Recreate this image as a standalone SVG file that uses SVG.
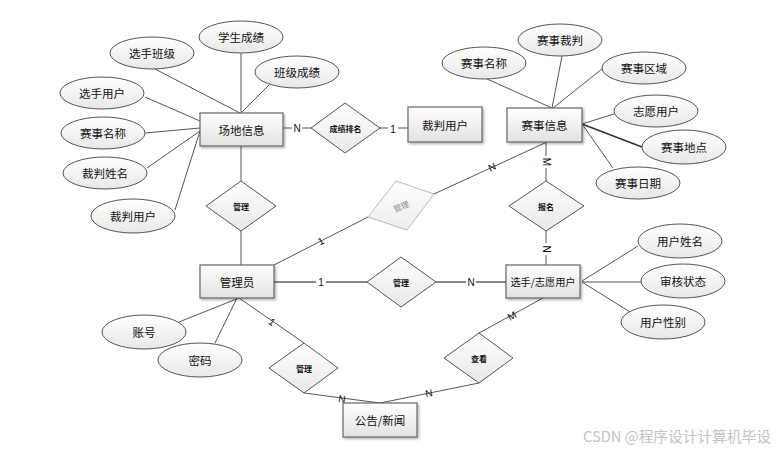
<svg xmlns="http://www.w3.org/2000/svg" width="777" height="451" viewBox="0 0 777 451">
<defs>
<linearGradient id="gE" x1="0" y1="0" x2="0" y2="1"><stop offset="0" stop-color="#ffffff"/><stop offset="1" stop-color="#e2e2e2"/></linearGradient>
<linearGradient id="gO" x1="0" y1="0" x2="0" y2="1"><stop offset="0" stop-color="#ffffff"/><stop offset="1" stop-color="#e8e8e8"/></linearGradient>
<linearGradient id="gF" x1="0" y1="0" x2="0" y2="1"><stop offset="0" stop-color="#ffffff"/><stop offset="1" stop-color="#ececec"/></linearGradient>
<filter id="sh" x="-10%" y="-10%" width="130%" height="140%"><feDropShadow dx="1.5" dy="1.5" stdDeviation="0.8" flood-color="#000" flood-opacity="0.3"/></filter>
</defs>
<style>
.ent{fill:url(#gE);stroke:#666;stroke-width:1.2;filter:url(#sh)}
.att{fill:url(#gO);stroke:#555;stroke-width:1}
.rel{fill:url(#gO);stroke:#555;stroke-width:1}
.fad{fill:url(#gF);stroke:#bbb;stroke-width:1}
.t{font-family:"Noto Sans CJK SC","Liberation Sans",sans-serif;font-size:11.5px;fill:#111;text-anchor:middle;dominant-baseline:central}
.rt{font-family:"Noto Sans CJK SC","Liberation Sans",sans-serif;font-size:8px;font-weight:bold;fill:#111;text-anchor:middle;dominant-baseline:central}
.ft{font-family:"Noto Sans CJK SC","Liberation Sans",sans-serif;font-size:8px;fill:#888;text-anchor:middle;dominant-baseline:central}
.c{stroke:#555;stroke-width:1;fill:none}
.lb{font-family:"Liberation Sans",sans-serif;font-size:10px;fill:#111;text-anchor:middle;dominant-baseline:central}
.lbb{fill:#fff}
.wm{font-family:"Noto Sans CJK SC","Liberation Sans",sans-serif;font-size:14.7px;fill:#c4c4c4}
</style>
<rect width="777" height="451" fill="#fff"/>
<g id="connectors">
<line class="c" x1="155" y1="69" x2="240" y2="113"/>
<line class="c" x1="241" y1="53" x2="241" y2="113"/>
<line class="c" x1="269" y1="85" x2="242" y2="112"/>
<line class="c" x1="145" y1="97" x2="200" y2="121"/>
<line class="c" x1="145" y1="133" x2="200" y2="128"/>
<line class="c" x1="147" y1="168" x2="200" y2="131"/>
<line class="c" x1="175" y1="210" x2="200" y2="131"/>
<line class="c" x1="241" y1="146" x2="241" y2="181"/>
<line class="c" x1="241" y1="231" x2="241" y2="265"/>
<line class="c" x1="283" y1="128" x2="311" y2="128"/>
<line class="c" x1="380" y1="128" x2="408" y2="128"/>
<line class="c" x1="274" y1="265" x2="368" y2="217"/>
<line class="c" x1="434" y1="194" x2="547" y2="142"/>
<line class="c" x1="487" y1="79" x2="552" y2="108"/>
<line class="c" x1="562" y1="56" x2="552" y2="108"/>
<line class="c" x1="602" y1="69" x2="553" y2="108"/>
<line class="c" x1="614" y1="114" x2="582" y2="124"/>
<line class="c" x1="642" y1="147" x2="582" y2="124" style="stroke-width:1.5;stroke:#333"/>
<line class="c" x1="613" y1="168" x2="582" y2="124"/>
<line class="c" x1="546" y1="142" x2="546" y2="181"/>
<line class="c" x1="546" y1="231" x2="546" y2="265"/>
<line class="c" x1="274" y1="282" x2="367" y2="282" style="stroke:#888;stroke-width:2"/>
<line class="c" x1="436" y1="282" x2="506" y2="282" style="stroke:#888;stroke-width:2"/>
<line class="c" x1="638" y1="246" x2="582" y2="281"/>
<line class="c" x1="582" y1="282" x2="641" y2="282"/>
<line class="c" x1="582" y1="282" x2="630" y2="312"/>
<line class="c" x1="179" y1="322" x2="239" y2="298"/>
<line class="c" x1="215" y1="343" x2="237" y2="298"/>
<line class="c" x1="239" y1="298" x2="304" y2="343"/>
<line class="c" x1="304" y1="393" x2="380" y2="403"/>
<line class="c" x1="479" y1="333" x2="543" y2="298"/>
<line class="c" x1="479" y1="383" x2="380" y2="403"/>
<g>
<rect class="lbb" x="292" y="122" width="10" height="12"/><text class="lb" x="297" y="128">N</text>
<rect class="lbb" x="388" y="122" width="10" height="12"/><text class="lb" x="393" y="129">1</text>
<text class="lb" x="321" y="241" transform="rotate(-27 321 241)">1</text>
<text class="lb" x="492" y="167" transform="rotate(-25 492 167)">N</text>
<rect class="lbb" x="541" y="156" width="10" height="12"/><text class="lb" x="546" y="162" transform="rotate(90 546 162)">M</text>
<rect class="lbb" x="541" y="243" width="10" height="12"/><text class="lb" x="546" y="249" transform="rotate(90 546 249)">N</text>
<rect class="lbb" x="316" y="276" width="10" height="12"/><text class="lb" x="321" y="282">1</text>
<rect class="lbb" x="466" y="276" width="10" height="12"/><text class="lb" x="471" y="282">N</text>
<text class="lb" x="272" y="322" font-size="9" transform="rotate(35 272 322)">1</text>
<text class="lb" x="342" y="399" font-size="9" transform="rotate(7 342 399)">N</text>
<text class="lb" x="512" y="316" font-size="9" transform="rotate(-29 512 316)">M</text>
<text class="lb" x="429" y="393" font-size="9" transform="rotate(-11 429 393)">N</text>
</g>
</g>
<g id="e_changdi"><rect class="ent" x="200" y="113" width="83" height="33"/><text class="t" x="241.5" y="129.5">场地信息</text></g>
<g id="e_caipan"><rect class="ent" x="408" y="107" width="74" height="35"/><text class="t" x="445" y="124.5">裁判用户</text></g>
<g id="e_saishi"><rect class="ent" x="507" y="108" width="75" height="34"/><text class="t" x="544.5" y="125">赛事信息</text></g>
<g id="e_admin"><rect class="ent" x="200" y="265" width="74" height="33"/><text class="t" x="237" y="281.5">管理员</text></g>
<g id="e_user"><rect class="ent" x="506" y="265" width="74" height="33"/><text class="t" x="543" y="281.5" style="font-size:10.2px">选手/志愿用户</text></g>
<g id="e_notice"><rect class="ent" x="343" y="403" width="74" height="34"/><text class="t" x="380" y="420">公告/新闻</text></g>
<g id="a_xsbj"><ellipse class="att" cx="152" cy="53" rx="42" ry="16"/><text class="t" x="152" y="53">选手班级</text></g>
<g id="a_xscj"><ellipse class="att" cx="241" cy="37" rx="42" ry="16"/><text class="t" x="241" y="37">学生成绩</text></g>
<g id="a_bjcj"><ellipse class="att" cx="297" cy="72" rx="42" ry="16"/><text class="t" x="297" y="72">班级成绩</text></g>
<g id="a_xsyh"><ellipse class="att" cx="102" cy="93" rx="42" ry="16"/><text class="t" x="102" y="93">选手用户</text></g>
<g id="a_ssmc1"><ellipse class="att" cx="103" cy="133" rx="42" ry="16"/><text class="t" x="103" y="133">赛事名称</text></g>
<g id="a_cpxm"><ellipse class="att" cx="105" cy="173" rx="42" ry="16"/><text class="t" x="105" y="173">裁判姓名</text></g>
<g id="a_cpyh"><ellipse class="att" cx="133" cy="216" rx="42" ry="17"/><text class="t" x="133" y="216">裁判用户</text></g>
<g id="a_ssmc2"><ellipse class="att" cx="484" cy="63" rx="42" ry="16"/><text class="t" x="484" y="63">赛事名称</text></g>
<g id="a_sscp"><ellipse class="att" cx="560" cy="40" rx="42" ry="16"/><text class="t" x="560" y="40">赛事裁判</text></g>
<g id="a_ssqy"><ellipse class="att" cx="644" cy="68" rx="42" ry="16"/><text class="t" x="644" y="68">赛事区域</text></g>
<g id="a_zyyh"><ellipse class="att" cx="656" cy="111" rx="42" ry="16"/><text class="t" x="656" y="111">志愿用户</text></g>
<g id="a_ssdd"><ellipse class="att" cx="684" cy="147" rx="42" ry="17"/><text class="t" x="684" y="147">赛事地点</text></g>
<g id="a_ssrq"><ellipse class="att" cx="638" cy="183" rx="42" ry="16"/><text class="t" x="638" y="183">赛事日期</text></g>
<g id="a_yhxm"><ellipse class="att" cx="680" cy="241" rx="42" ry="17"/><text class="t" x="680" y="241">用户姓名</text></g>
<g id="a_shzt"><ellipse class="att" cx="683" cy="281" rx="42" ry="17"/><text class="t" x="683" y="281">审核状态</text></g>
<g id="a_yhxb"><ellipse class="att" cx="663" cy="322" rx="42" ry="17"/><text class="t" x="663" y="322">用户性别</text></g>
<g id="a_zh"><ellipse class="att" cx="144" cy="332" rx="42" ry="17"/><text class="t" x="144" y="332">账号</text></g>
<g id="a_mm"><ellipse class="att" cx="200" cy="360" rx="42" ry="17"/><text class="t" x="200" y="360">密码</text></g>
<g id="r_guanli1"><polygon class="rel" points="241,181 276,206 241,231 206,206"/><text class="rt" x="241" y="206">管理</text></g>
<g id="r_cjpm"><polygon class="rel" points="345,103 380,128 345,153 311,128"/><text class="rt" x="345.5" y="128">成绩排名</text></g>
<g id="r_guanli2"><polygon class="fad" points="396,181 434,194 407,230 368,217"/><text class="ft" x="401" y="206" transform="rotate(-22 401 206)">管理</text></g>
<g id="r_baoming"><polygon class="rel" points="546,181 584,206 546,231 509,206"/><text class="rt" x="546" y="206">报名</text></g>
<g id="r_guanli3"><polygon class="rel" points="401,257 436,282 401,307 367,282"/><text class="rt" x="401" y="282">管理</text></g>
<g id="r_guanli4"><polygon class="rel" points="304,343 338,368 304,393 269,368"/><text class="rt" x="304" y="368">管理</text></g>
<g id="r_chakan"><polygon class="rel" points="479,333 513,358 479,383 444,358"/><text class="rt" x="479" y="358">查看</text></g>
<text class="wm" x="583" y="442">CSDN @程序设计计算机毕设</text>
</svg>
